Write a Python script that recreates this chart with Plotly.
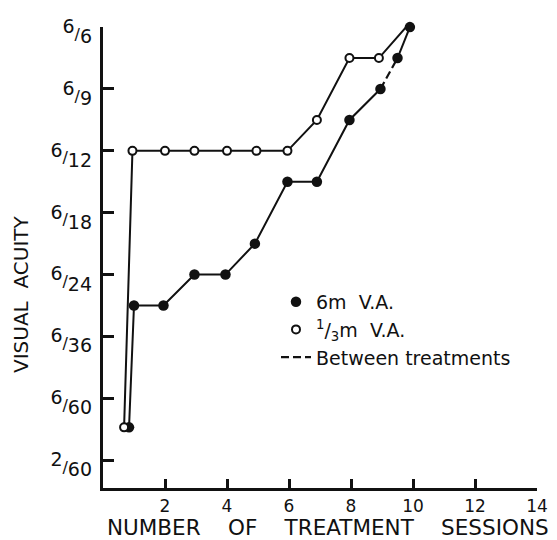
import plotly.graph_objects as go

# ---- data ----
# visual acuity categories (bottom -> top), plotted at equally spaced positions
va_num = [2, 6, 6, 6, 6, 6, 6, 6]
va_den = [60, 60, 36, 24, 18, 12, 9, 6]
va_pos = list(range(len(va_den)))

session_ticks = [2, 4, 6, 8, 10, 12, 14]

# 6 m V.A. (filled circles)
six_m_x = [0.84, 1.0, 1.95, 2.95, 3.95, 4.9, 5.95, 6.9, 7.95, 8.95, 9.5, 9.9]
six_m_y = [0.53, 2.5, 2.5, 3.0, 3.0, 3.5, 4.5, 4.5, 5.5, 6.0, 6.5, 7.0]
between_idx = 9  # segment from point 9 to 10 is "between treatments"

# 1/3 m V.A. (open circles)
third_m_x = [0.68, 0.95, 2.0, 2.95, 4.0, 4.95, 5.95, 6.9, 7.95, 8.9, 9.9]
third_m_y = [0.53, 5.0, 5.0, 5.0, 5.0, 5.0, 5.0, 5.5, 6.5, 6.5, 7.07]

FONT = "DejaVu Sans"
BLACK = "#111111"

ticktext = [
    f"<sup><span style='font-size:19px'>{n}</span></sup>/"
    f"<sub><span style='font-size:19px'>{d}</span></sub>"
    for n, d in zip(va_num, va_den)
]

fig = go.Figure()

# filled series lines
fig.add_trace(go.Scatter(
    x=six_m_x[:between_idx + 1], y=six_m_y[:between_idx + 1], mode="lines",
    line=dict(color=BLACK, width=2), showlegend=False, cliponaxis=False,
    hoverinfo="skip"))
fig.add_trace(go.Scatter(
    x=six_m_x[between_idx:between_idx + 2], y=six_m_y[between_idx:between_idx + 2],
    mode="lines", name="Between treatments", legendrank=3,
    line=dict(color=BLACK, width=2.2, dash="8px,4px"), cliponaxis=False))
fig.add_trace(go.Scatter(
    x=six_m_x[between_idx + 1:], y=six_m_y[between_idx + 1:], mode="lines",
    line=dict(color=BLACK, width=2), showlegend=False, cliponaxis=False,
    hoverinfo="skip"))
fig.add_trace(go.Scatter(
    x=six_m_x, y=six_m_y, mode="markers", name="6m\u00a0\u00a0V.A.", legendrank=1,
    marker=dict(symbol="circle", size=10.5, color=BLACK, line=dict(width=0)),
    cliponaxis=False))

# open series
fig.add_trace(go.Scatter(
    x=third_m_x, y=third_m_y, mode="lines",
    line=dict(color=BLACK, width=2), showlegend=False, cliponaxis=False,
    hoverinfo="skip"))
fig.add_trace(go.Scatter(
    x=third_m_x, y=third_m_y, mode="markers",
    name="<sup>1</sup>/<sub>3</sub>m\u00a0\u00a0V.A.", legendrank=2,
    marker=dict(symbol="circle", size=8, color="white", line=dict(width=2, color=BLACK)),
    cliponaxis=False))

fig.update_layout(
    width=549, height=532,
    margin=dict(l=95, r=20, t=19, b=52, autoexpand=False),
    paper_bgcolor="white", plot_bgcolor="white",
    font=dict(family=FONT, color=BLACK),
    showlegend=True,
    legend=dict(x=0.3986, y=0.445, xanchor="left", yanchor="top",
                bgcolor="rgba(0,0,0,0)", font=dict(family=FONT, size=19, color=BLACK),
                itemwidth=30, tracegroupgap=0),
    xaxis=dict(range=[0, 14], tickvals=session_ticks, ticks="inside", ticklen=9,
               tickwidth=2.5, tickcolor=BLACK, showline=True, linewidth=2.5,
               linecolor=BLACK, showgrid=False, zeroline=False, automargin=False,
               tickfont=dict(family=FONT, size=17, color=BLACK),
               ticklabelstandoff=1),
    yaxis=dict(range=[-0.45, 7.002], tickvals=va_pos, ticktext=ticktext, ticks="inside",
               ticklen=11, tickwidth=2.5, tickcolor=BLACK, showline=True, linewidth=2.5,
               linecolor=BLACK, showgrid=False, zeroline=False, automargin=False,
               tickfont=dict(family=FONT, size=16, color=BLACK),
               ticklabelstandoff=5, ticklabelshift=7),
    annotations=[
        dict(text="NUMBER\u00a0\u00a0\u00a0\u00a0OF\u00a0\u00a0\u00a0\u00a0TREATMENT\u00a0\u00a0\u00a0\u00a0SESSIONS",
             xref="paper", yref="paper", x=(328 - 103) / 434, y=(488 - 527) / 461,
             xanchor="center", yanchor="middle", showarrow=False, borderpad=0,
             font=dict(family=FONT, size=21.5, color=BLACK)),
        dict(text="VISUAL\u00a0\u00a0ACUITY", textangle=-90,
             xref="paper", yref="paper", x=(21 - 103) / 434, y=(488 - 294) / 461,
             xanchor="center", yanchor="middle", showarrow=False, borderpad=0,
             font=dict(family=FONT, size=20, color=BLACK)),
    ],
)

fig.write_html("out.html")
